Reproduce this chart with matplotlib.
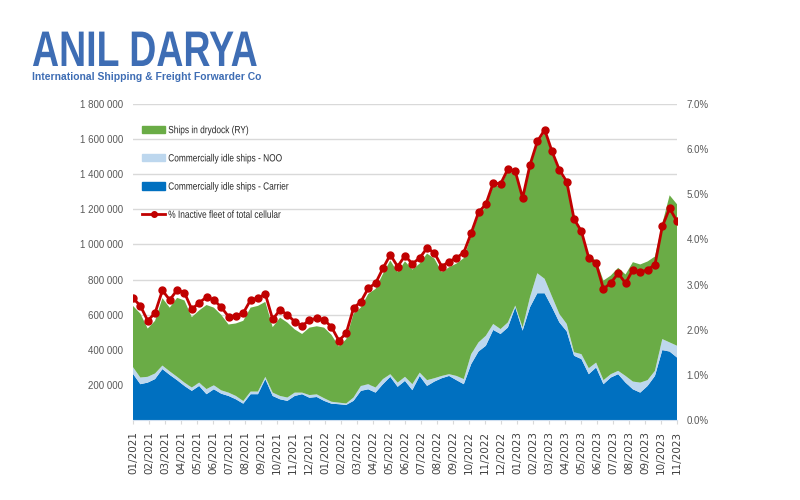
import matplotlib.pyplot as plt
from matplotlib.patches import Patch
from matplotlib.lines import Line2D
from matplotlib.patheffects import AbstractPathEffect
from matplotlib.transforms import Affine2D
import numpy as np

# month tick labels
months = ["01/2021", "02/2021", "03/2021", "04/2021", "05/2021", "06/2021",
          "07/2021", "08/2021", "09/2021", "10/2021", "11/2021", "12/2021",
          "01/2022", "02/2022", "03/2022", "04/2022", "05/2022", "06/2022",
          "07/2022", "08/2022", "09/2022", "10/2022", "11/2022", "12/2022",
          "01/2023", "02/2023", "03/2023", "04/2023", "05/2023", "06/2023",
          "07/2023", "08/2023", "09/2023", "10/2023", "11/2023"]

# biweekly values, thousand TEU
carrier = [263, 204, 213, 233, 290, 257, 227, 194, 166, 194, 147, 175, 150, 137, 118,
           93, 147, 147, 233, 137, 118, 109, 137, 147, 127, 131, 109, 93, 90, 86, 109,
           166, 175, 156, 204, 246, 189, 223, 170, 251, 194, 219, 238, 251, 227, 204,
           318, 390, 423, 513, 490, 527, 642, 509, 642, 722, 722, 642, 556, 505, 366,
           347, 261, 299, 204, 242, 261, 213, 175, 156, 194, 251, 398, 390, 356]
noo = [38, 38, 33, 32, 20, 20, 19, 19, 19, 19, 29, 23, 19, 19, 19,
       15, 15, 15, 13, 19, 19, 19, 19, 9, 15, 15, 15, 11, 9, 8, 19,
       28, 29, 29, 29, 15, 24, 23, 34, 19, 33, 19, 13, 10, 24, 29,
       57, 52, 57, 34, 28, 29, 10, 18, 57, 114, 82, 61, 48, 42, 20,
       28, 34, 28, 23, 19, 19, 38, 44, 57, 33, 29, 63, 52, 67]
drydock = [349, 364, 275, 300, 384, 363, 450, 468, 401, 411, 479, 442, 430, 388, 413,
           457, 478, 488, 427, 373, 446, 427, 360, 334, 384, 388, 402, 381, 320, 366, 477,
           447, 514, 562, 599, 648, 629, 658, 653, 621, 721, 681, 591, 609, 640, 689,
           675, 726, 735, 789, 813, 860, 751, 724, 740, 737, 836, 813, 807, 797, 774,
           705, 642, 582, 567, 562, 587, 578, 680, 673, 676, 651, 657, 838, 806]
# % inactive fleet of total cellular
pct = [2.70, 2.53, 2.20, 2.37, 2.87, 2.66, 2.88, 2.82, 2.45, 2.60, 2.72, 2.66, 2.50, 2.29, 2.31,
       2.37, 2.66, 2.70, 2.79, 2.23, 2.44, 2.33, 2.18, 2.08, 2.22, 2.25, 2.22, 2.06, 1.76, 1.92, 2.48,
       2.62, 2.92, 3.03, 3.36, 3.66, 3.40, 3.64, 3.46, 3.59, 3.81, 3.70, 3.40, 3.51, 3.59, 3.71,
       4.14, 4.60, 4.78, 5.25, 5.23, 5.56, 5.51, 4.92, 5.65, 6.17, 6.43, 5.95, 5.54, 5.28, 4.45,
       4.18, 3.59, 3.47, 2.90, 3.04, 3.25, 3.03, 3.33, 3.27, 3.33, 3.44, 4.29, 4.69, 4.40]

labels = ["Ships in drydock (RY)", "Commercially idle ships - NOO",
          "Commercially idle ships - Carrier", "% Inactive fleet of total cellular"]

GREEN = "#6aac46"
LIGHT = "#bdd7ee"
BLUE = "#0070c0"
RED = "#c00000"
LOGO = "#3e6db4"
SANS = ["Liberation Sans", "DejaVu Sans"]


class Squeeze(AbstractPathEffect):
    # narrow the glyphs horizontally (condensed look), text stays text
    def __init__(self, sx):
        super().__init__()
        self.sx = sx

    def draw_path(self, renderer, gc, tpath, affine, rgbFace=None):
        renderer.draw_path(gc, tpath, Affine2D().scale(self.sx, 1) + affine, rgbFace)


plt.rcParams["font.family"] = SANS

fig = plt.figure(figsize=(8, 5), dpi=100)
ax = fig.add_axes([133 / 800, 80 / 500, 544 / 800, 316 / 500])

x = np.arange(len(pct))
ax.stackplot(x, carrier, noo, drydock, colors=[BLUE, LIGHT, GREEN], linewidth=0)
ax.set_xlim(0, len(pct) - 1)
ax.set_ylim(0, 1800)
yt = list(range(0, 1801, 200))
ax.set_yticks(yt)
ax.set_yticklabels([""] + [f"{v * 1000:,}".replace(",", " ") for v in yt[1:]])
ax.yaxis.grid(True, color="#d9d9d9", lw=1)
ax.set_axisbelow(True)
ax.tick_params(axis="y", length=0, pad=7, labelsize=7, labelcolor="#595959")

mpos = np.arange(len(months)) * (len(pct) - 1) / (len(months) - 1)
ax.set_xticks(mpos)
ax.set_xticklabels(months, rotation=90, fontsize=7.5, color="#404040",
                   family="DejaVu Sans")
ax.tick_params(axis="x", length=3, color="#d9d9d9", pad=5)
for s in ["top", "left", "right"]:
    ax.spines[s].set_visible(False)
ax.spines["bottom"].set_color("#d0dff0")

ax2 = ax.twinx()
ax2.plot(x, pct, color=RED, lw=2, marker="o", ms=5, mfc=RED, mec=RED)
ax2.set_ylim(0, 7)
ax2.set_yticks(np.arange(0, 7.1, 1))
ax2.set_yticklabels([f"{v:.1f}%" for v in np.arange(0, 7.1, 1)])
ax2.tick_params(axis="y", length=0, pad=7, labelsize=7, labelcolor="#595959")
for s in ax2.spines.values():
    s.set_visible(False)

handles = [Patch(color=GREEN), Patch(color=LIGHT), Patch(color=BLUE),
           Line2D([], [], color=RED, lw=2, marker="o", ms=4)]
leg = fig.legend(handles, labels, loc="upper left",
                 bbox_to_anchor=(138 / 800, 1 - 121 / 500),
                 frameon=False, fontsize=7.5, labelspacing=1.75, handlelength=2.2,
                 handletextpad=0.3, borderaxespad=0)
for t in leg.get_texts():
    t.set_color("#262626")
    t.set_path_effects([Squeeze(0.8)])

# logo
fig.text(32 / 800, 1 - 66 / 500, "ANIL DARYA", fontsize=36, weight="bold",
         color=LOGO, va="baseline", path_effects=[Squeeze(0.75)])
fig.text(32 / 800, 1 - 80 / 500, "International Shipping & Freight Forwarder Co",
         fontsize=7.5, weight="bold", color=LOGO, va="baseline")

fig.savefig("out.png", dpi=100)
